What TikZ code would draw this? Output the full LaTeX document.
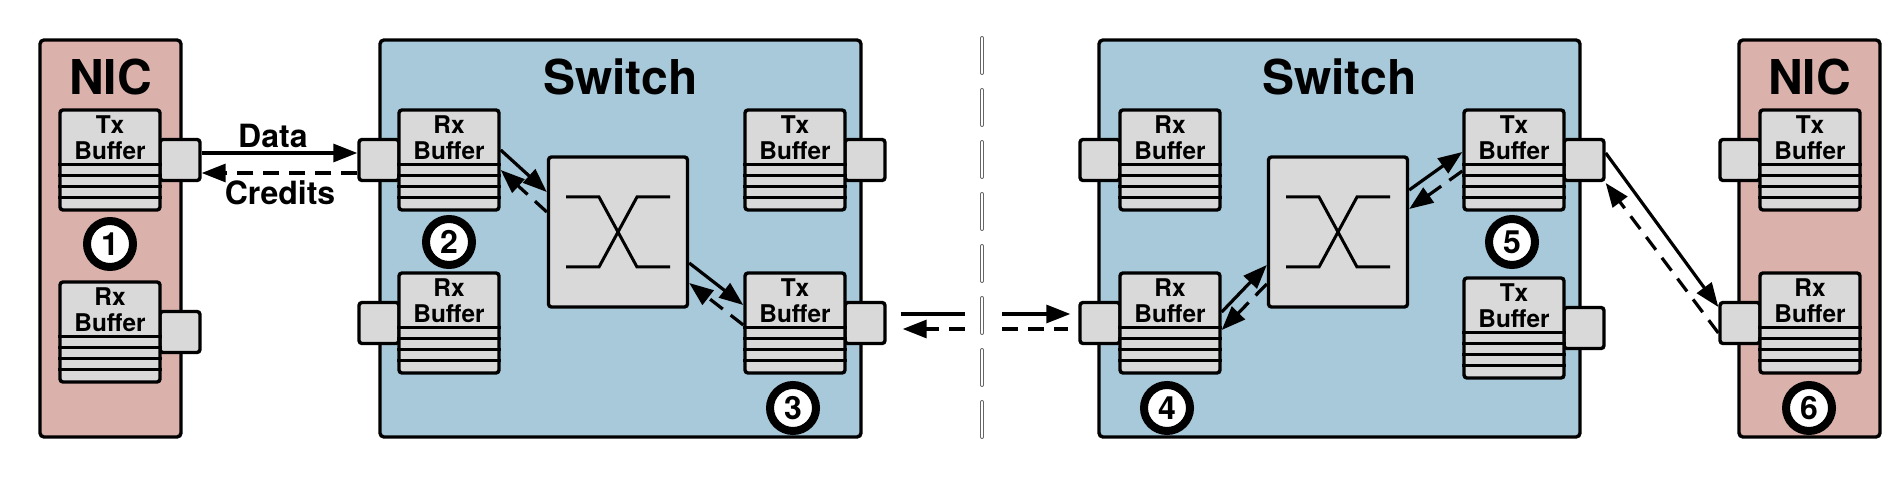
\documentclass[tikz,border=0pt]{standalone}
\usepackage{fontspec}
\setmainfont{TeX Gyre Heros}
\usetikzlibrary{arrows.meta}
\definecolor{nicfill}{HTML}{DAB1AB}
\definecolor{swfill}{HTML}{A8C9DA}
\definecolor{gfill}{HTML}{D9D9D9}
\newcommand\mybuf[5]{%
  \node[portbox] (#1p) at ({#2+(#5)},{#3+50}) {};
  \node[bufbox] (#1) at (#2,{#3+50}) {};
  \foreach \k in {28,33.5,39,44.5}
    \draw[stripe] ([yshift=-\k pt]#1.north west) -- ([yshift=-\k pt]#1.north east);
  \node[buftext] (#1txt) at (#2,{#3+28}) {#4\\Buffer};
}
\begin{document}
\begin{tikzpicture}[x=0.5pt,y=-0.5pt,
  bigbox/.style={draw, line width=1.7pt, rounded corners=2pt, inner sep=0,
                 minimum height=198.5pt},
  nicbox/.style={bigbox, fill=nicfill, minimum width=70.5pt},
  swbox/.style={bigbox, fill=swfill, minimum width=240.5pt},
  bufbox/.style={draw, line width=1.7pt, fill=gfill, rounded corners=1.5pt,
                 minimum width=50pt, minimum height=50pt, inner sep=0},
  portbox/.style={draw, line width=1.7pt, fill=gfill, rounded corners=1.5pt,
                 minimum width=20pt, minimum height=20.5pt, inner sep=0},
  stripe/.style={line width=1.5pt},
  buftext/.style={align=center, inner sep=0, font=\bfseries\fontsize{12.2}{13}\selectfont},
  title/.style={anchor=base, inner sep=0, font=\bfseries\fontsize{24}{24}\selectfont},
  lbl/.style={anchor=base, inner sep=0, font=\bfseries\fontsize{16}{16}\selectfont},
  num/.style={circle, draw, line width=4pt, fill=white, minimum size=23pt, inner sep=0,
              font=\bfseries\fontsize{16}{16}\selectfont},
  xbar/.style={draw, line width=1.7pt, fill=gfill, rounded corners=1.5pt,
               minimum width=69.5pt, minimum height=75pt, inner sep=0},
  xline/.style={line width=1.5pt},
  tip/.style={-{Triangle[length=12pt,width=9pt]}},
  dat/.style={line width=1.6pt, tip},
  cred/.style={line width=1.6pt, dash pattern=on 8pt off 5pt, tip},
  divider/.style={draw=black!60, line width=0.4pt, double=white, double distance=1.2pt,
                  dash pattern=on 17.5pt off 8.5pt, line cap=round}
]
\useasboundingbox (0,0) rectangle (1890,480);

% containers
\node[nicbox] (nic1) at (110.5,238.5) {};
\node[swbox]  (sw1)  at (620.5,238.5) {};
\node[swbox]  (sw2)  at (1339.5,238.5) {};
\node[nicbox] (nic2) at (1809.5,238.5) {};

\node[title] (tnic1) at (110.5,95) {NIC};
\node[title] (tsw1)  at (620.5,95) {Switch};
\node[title] (tsw2)  at (1339.5,95) {Switch};
\node[title] (tnic2) at (1809.5,95) {NIC};

% buffers
\mybuf{nta}{110}{110}{Tx}{70}
\mybuf{nra}{110}{282}{Rx}{70}
\mybuf{sra}{449}{110}{Rx}{-70}
\mybuf{srb}{449}{273}{Rx}{-70}
\mybuf{sta}{795}{110}{Tx}{70}
\mybuf{stb}{795}{273}{Tx}{70}
\mybuf{tra}{1170}{110}{Rx}{-70}
\mybuf{trb}{1170}{273}{Rx}{-70}
\mybuf{tta}{1514}{110}{Tx}{70}
\mybuf{ttb}{1514}{278}{Tx}{70}
\mybuf{nbt}{1810}{110}{Tx}{-70}
\mybuf{nbr}{1810}{273}{Rx}{-70}

% crossbars
\node[xbar] (x1) at (618,232) {};
\node[xbar] (x2) at (1338,232) {};
\foreach \x in {x1,x2}{
  \draw[xline] ([shift={(-52,-35)}]\x.center) -- ([shift={(-19,-35)}]\x.center)
     -- ([shift={(19,35)}]\x.center) -- ([shift={(52,35)}]\x.center);
  \draw[xline] ([shift={(-52,35)}]\x.center) -- ([shift={(-19,35)}]\x.center)
     -- ([shift={(19,-35)}]\x.center) -- ([shift={(52,-35)}]\x.center);
}

% step numbers
\node[num] (c1) at (110,244) {1};
\node[num] (c2) at (449,242) {2};
\node[num] (c3) at (793,408) {3};
\node[num] (c4) at (1167,408) {4};
\node[num] (c5) at (1512,242) {5};
\node[num] (c6) at (1809,408) {6};

% divider
\coordinate (divtop) at (982,38);
\coordinate (divbot) at (982,440);
\draw[divider] (divtop) -- (divbot);
\coordinate (gapL) at (965,0);
\coordinate (gapR) at (1002,0);

% NIC1 <-> Switch1
\draw[dat] (ntap.east |- 0,153) -- (srap.west |- 0,153);
\draw[cred] (srap.west |- 0,173) -- (ntap.east |- 0,173);
\node[lbl] (ldata) at (273,148) {Data};
\node[lbl] (lcred) at (280,205) {Credits};

% Switch1 internals
\draw[dat] (sra.east |- 0,150) -- (x1.west |- 0,192);
\draw[cred] (x1.west |- 0,212) -- (sra.east |- 0,170);
\draw[dat] (x1.east |- 0,263) -- (stb.west |- 0,305);
\draw[cred] (stb.west |- 0,325) -- (x1.east |- 0,283);

% Switch1 <-> Switch2 (cut)
\draw[dat, -, shorten <=7pt] (stbp.east |- 0,314) -- (gapL |- 0,314);
\draw[dat, shorten >=4pt] (gapR |- 0,314) -- (trbp.west |- 0,314);
\draw[cred, -, shorten >=5pt] (gapR |- 0,329) -- (trbp.west |- 0,329);
\draw[cred, shorten >=8pt] (gapL |- 0,329) -- (stbp.east |- 0,329);

% Switch2 internals
\draw[dat] (trb.east |- 0,312) -- (x2.west |- 0,265);
\draw[cred] (x2.west |- 0,284) -- (trb.east |- 0,330);
\draw[dat] (x2.east |- 0,190) -- (tta.west |- 0,152);
\draw[cred] (tta.west |- 0,171) -- (x2.east |- 0,209);

% Switch2 <-> NIC2
\draw[dat] (ttap.east |- 0,153) -- (nbrp.west |- 0,307);
\draw[cred] (nbrp.west |- 0,333) -- (ttap.east |- 0,183);
\end{tikzpicture}
\end{document}
